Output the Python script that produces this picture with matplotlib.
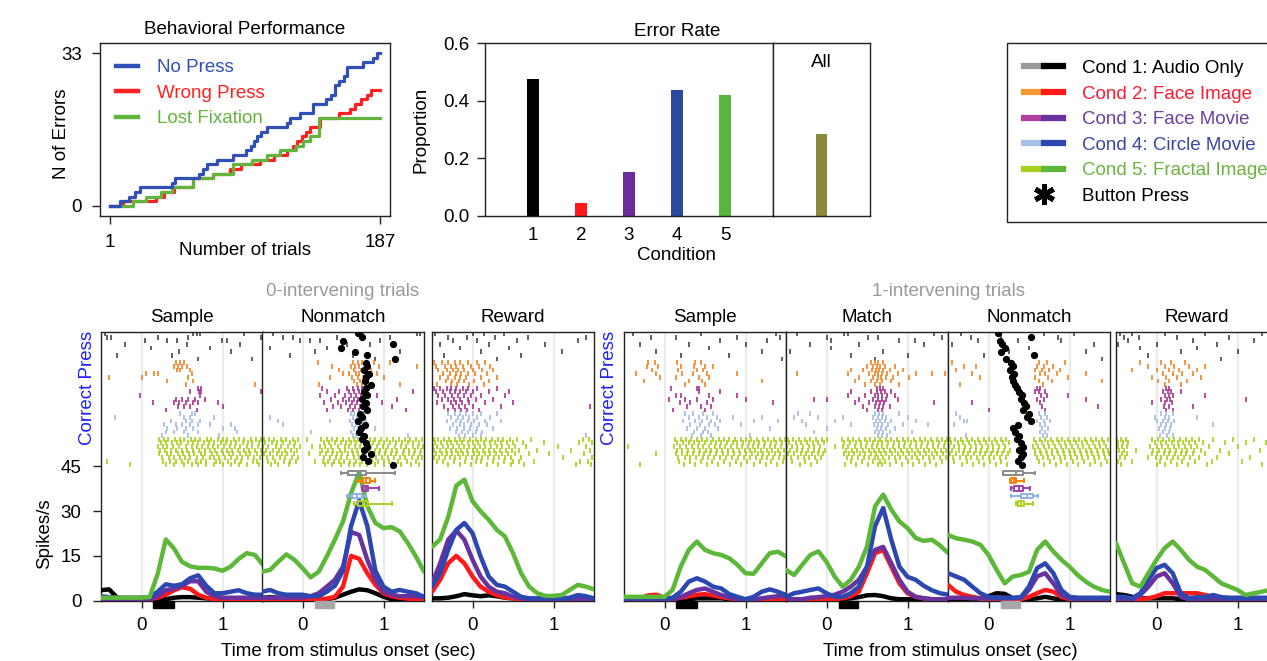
import numpy as np
import matplotlib
matplotlib.use("Agg")
import matplotlib.pyplot as plt
from matplotlib.lines import Line2D
from matplotlib.patches import Rectangle
from matplotlib.legend_handler import HandlerTuple

FS = 13.5
plt.rcParams['font.family'] = ['Liberation Sans', 'DejaVu Sans']
plt.rcParams['font.size'] = FS

# ---------------- behavioural performance (cumulative errors) ----------------
NOPRESS_TRIAL = [1, 8, 14, 18, 22, 44, 46, 62, 65, 68, 75, 86, 95, 98, 100, 102, 105, 109,
                 123, 125, 132, 141, 150, 153, 156, 159, 162, 164, 175, 182, 185, 187]
NOPRESS_COUNT = [0, 1, 2, 3, 4, 5, 6, 7, 8, 9, 10, 11, 12, 13, 14, 15, 16, 17,
                 18, 19, 20, 22, 23, 24, 26, 27, 28, 30, 31, 32, 33, 33]
WRONG_TRIAL = [1, 10, 33, 38, 45, 58, 72, 84, 91, 104, 114, 123, 127, 130, 133, 136, 139,
               146, 159, 166, 170, 174, 178, 181, 187]
WRONG_COUNT = [0, 1, 2, 3, 4, 6, 7, 8, 9, 10, 11, 12, 13, 14, 15, 16, 17,
               19, 20, 21, 22, 23, 24, 25, 25]
LOSTFIX_TRIAL = [1, 17, 26, 36, 44, 58, 72, 86, 99, 109, 118, 129, 134, 139, 145, 187]
LOSTFIX_COUNT = [0, 1, 2, 3, 4, 6, 7, 9, 10, 11, 12, 13, 14, 15, 19, 19]

# ---------------- error rate ----------------
CONDITIONS = [1, 2, 3, 4, 5]
ERROR_RATE = [0.475, 0.044, 0.154, 0.437, 0.42]
ERROR_ALL = 0.285

# ---------------- PSTH (spikes/s), time grid -0.5 .. 1.5 s ----------------
TIME = np.arange(-5, 16) / 10
# order in each panel: cond1 (black), cond2 (red), cond3 (purple), cond4 (blue), cond5 (green)
L_SAMPLE_RATE = [
    [3.5, 3.8, 1.0, 0.5, 0.3, 0.3, 0.3, 0.3, 0.5, 1.0, 1.2, 1.2, 1.0, 0.8, 0.6, 0.5, 0.5, 0.5, 0.5, 0.5, 0.5],
    [0.5, 0.5, 0.5, 0.5, 0.5, 0.5, 0.5, 1.0, 2.0, 3.5, 4.5, 4.0, 2.0, 1.0, 0.5, 0.5, 0.5, 0.5, 0.5, 0.5, 0.5],
    [0.5, 0.5, 0.5, 0.5, 0.5, 0.5, 0.5, 1.5, 3.5, 4.0, 5.0, 6.5, 6.5, 3.0, 1.5, 1.0, 1.0, 1.0, 1.0, 1.0, 1.0],
    [1.5, 1.2, 1.0, 1.0, 1.0, 1.0, 1.2, 3.0, 5.5, 5.0, 5.5, 7.5, 8.5, 5.0, 2.5, 2.5, 3.0, 3.5, 2.5, 2.0, 2.0],
    [1.0, 1.0, 1.0, 1.0, 1.0, 1.0, 1.2, 9.0, 20.5, 17.5, 13.0, 11.5, 11.0, 11.0, 10.8, 10.0, 11.4, 14.0, 15.9, 15.3, 12.0],
]
L_NONMATCH_RATE = [
    [1.0, 1.2, 1.0, 0.5, 0.5, 0.3, 0.3, 0.3, 0.5, 1.0, 2.0, 3.0, 3.8, 3.5, 2.5, 1.3, 0.5, 0.5, 0.5, 0.3, 0.3],
    [0.5, 0.5, 0.5, 0.5, 0.5, 0.5, 0.5, 0.5, 0.7, 1.3, 4.7, 15.0, 14.0, 9.2, 5.3, 2.5, 1.5, 1.0, 0.7, 0.5, 0.5],
    [1.0, 1.0, 1.0, 1.0, 1.0, 1.0, 1.5, 2.5, 4.7, 7.0, 11.4, 23.0, 22.0, 13.7, 7.0, 3.0, 2.0, 1.5, 1.5, 1.5, 1.2],
    [3.0, 3.6, 2.5, 2.0, 2.0, 2.0, 1.5, 1.5, 3.0, 5.0, 10.0, 25.0, 33.5, 25.0, 10.0, 4.7, 3.0, 3.6, 3.0, 2.5, 1.3],
    [9.7, 10.3, 13.0, 15.5, 13.7, 10.9, 7.8, 9.7, 14.8, 20.4, 26.5, 36.0, 43.0, 31.6, 26.0, 24.3, 24.6, 23.2, 19.3, 14.8, 9.7],
]
L_REWARD_RATE = [
    [0.8, 0.8, 1.0, 1.5, 2.2, 1.8, 1.5, 1.8, 1.5, 1.0, 0.8, 0.5, 0.5, 0.5, 0.5, 0.5, 0.5, 0.5, 0.5, 0.5, 0.5],
    [3.0, 7.0, 12.5, 15.0, 12.5, 8.1, 4.7, 3.0, 1.9, 1.1, 0.8, 0.5, 0.5, 0.5, 0.5, 0.5, 0.5, 0.5, 0.5, 0.5, 0.5],
    [5.8, 12.5, 20.4, 23.5, 20.4, 13.7, 8.1, 4.7, 3.0, 2.5, 1.3, 0.8, 0.5, 0.5, 0.5, 0.5, 0.5, 0.5, 0.5, 0.5, 0.5],
    [4.7, 9.2, 17.0, 23.7, 26.0, 22.6, 14.8, 8.1, 5.3, 4.7, 3.0, 1.3, 0.8, 0.8, 0.8, 0.8, 0.8, 1.0, 1.9, 1.5, 0.8],
    [18.0, 20.5, 28.0, 38.5, 40.5, 33.3, 29.9, 27.1, 23.7, 21.5, 15.9, 9.2, 4.7, 2.5, 1.6, 1.6, 1.9, 3.6, 5.3, 4.7, 3.8],
]
R_SAMPLE_RATE = [
    [0.3, 0.3, 0.3, 0.3, 0.3, 0.3, 0.3, 0.3, 0.5, 0.8, 0.8, 0.8, 0.8, 0.5, 0.3, 0.3, 0.3, 0.3, 0.3, 0.3, 0.3],
    [0.3, 0.3, 0.8, 1.8, 2.0, 1.0, 0.5, 1.0, 1.5, 2.0, 2.2, 1.8, 1.2, 0.8, 0.5, 0.5, 0.5, 0.5, 0.5, 0.5, 0.5],
    [0.3, 0.3, 0.3, 0.3, 0.3, 0.3, 0.5, 1.2, 2.5, 3.6, 4.1, 3.0, 1.9, 1.1, 0.5, 0.5, 0.5, 0.8, 1.2, 1.5, 1.5],
    [0.8, 0.8, 0.8, 0.8, 0.8, 0.8, 1.0, 3.0, 6.4, 7.5, 6.4, 4.7, 4.1, 2.2, 1.3, 0.5, 1.3, 3.0, 3.8, 3.0, 1.9],
    [1.3, 1.3, 1.3, 1.3, 1.3, 1.3, 3.6, 11.4, 17.0, 19.8, 17.0, 15.9, 15.3, 14.2, 12.0, 9.2, 9.0, 12.5, 15.9, 16.4, 14.8],
]
R_MATCH_RATE = [
    [0.5, 0.5, 0.5, 0.5, 0.5, 0.5, 0.5, 0.5, 0.8, 1.2, 1.8, 1.9, 1.5, 0.8, 0.5, 0.5, 0.5, 0.5, 0.5, 0.5, 0.5],
    [0.5, 0.5, 0.5, 0.5, 0.5, 0.5, 0.5, 0.8, 1.5, 3.0, 9.2, 15.9, 17.0, 11.4, 5.8, 2.5, 1.3, 0.8, 0.5, 0.5, 0.5],
    [0.5, 0.5, 0.5, 1.0, 1.2, 1.5, 2.0, 3.0, 4.7, 7.0, 11.4, 17.0, 18.0, 12.5, 7.0, 3.0, 1.3, 0.8, 0.5, 0.5, 0.5],
    [1.3, 2.5, 3.0, 3.6, 4.1, 2.5, 1.3, 1.3, 2.5, 4.7, 11.4, 25.0, 31.0, 20.4, 11.4, 8.0, 7.0, 5.0, 3.5, 2.5, 2.0],
    [10.3, 8.6, 12.0, 15.3, 16.5, 13.0, 8.1, 4.7, 7.0, 11.4, 18.1, 31.6, 35.5, 30.5, 26.5, 24.3, 21.0, 20.0, 20.4, 18.5, 16.0],
]
R_NONMATCH_RATE = [
    [0.5, 0.5, 0.5, 0.5, 0.8, 1.5, 2.5, 2.3, 0.8, 0.5, 0.5, 0.8, 1.3, 0.8, 0.3, 0.3, 0.3, 0.3, 0.3, 0.3, 0.3],
    [5.3, 3.0, 1.9, 1.3, 0.8, 0.5, 0.5, 0.5, 0.5, 0.5, 1.3, 2.5, 3.6, 3.0, 1.3, 0.5, 0.5, 0.5, 0.5, 0.5, 0.5],
    [1.0, 1.0, 1.0, 0.8, 0.8, 0.8, 0.8, 0.8, 0.8, 1.0, 3.6, 8.1, 9.2, 5.8, 1.9, 0.8, 0.5, 0.5, 0.5, 0.5, 0.5],
    [9.2, 8.1, 7.0, 4.7, 2.5, 1.3, 1.0, 1.0, 1.0, 1.2, 4.7, 10.9, 12.5, 9.2, 3.6, 1.3, 1.0, 1.0, 1.0, 1.0, 1.0],
    [22.0, 20.9, 20.4, 19.8, 18.7, 15.3, 10.3, 5.8, 8.1, 8.6, 9.7, 17.0, 19.8, 16.5, 13.7, 11.4, 8.6, 6.4, 4.7, 3.6, 3.0],
]
R_REWARD_RATE = [
    [2.2, 1.9, 1.3, 0.8, 0.8, 0.8, 0.8, 0.8, 0.5, 0.3, 0.3, 0.3, 0.3, 0.3, 0.3, 0.3, 0.3, 0.3, 0.3, 0.3, 0.3],
    [0.5, 0.5, 0.5, 0.5, 0.8, 1.5, 2.5, 2.5, 2.5, 2.5, 2.5, 1.9, 1.3, 0.8, 0.8, 0.8, 0.8, 0.8, 0.8, 0.8, 0.8],
    [0.5, 0.5, 0.5, 1.9, 4.7, 8.1, 9.2, 5.8, 1.3, 0.5, 0.5, 0.5, 0.5, 0.5, 0.5, 0.5, 0.5, 0.5, 0.5, 0.5, 0.5],
    [1.3, 1.3, 0.8, 2.5, 7.0, 10.9, 12.0, 9.2, 2.5, 0.8, 1.2, 1.2, 1.9, 1.2, 1.0, 1.0, 1.0, 1.0, 1.0, 1.0, 1.0],
    [19.3, 12.5, 5.8, 4.7, 9.2, 13.7, 17.6, 19.8, 17.0, 13.7, 11.4, 10.3, 8.1, 5.8, 4.7, 3.6, 1.9, 2.5, 3.0, 3.6, 3.6],
]

# ---------------- rasters: one line per trial, spike times in s ----------------
# rows per condition: 8, 7, 7, 7, 8
L_SAMPLE_SPIKES = [
"""-0.45 0.64 0.68 0.72 1.27
-0.42 -0.38 0.2 0.58 1.48
0.04 0.31 0.44 0.99 1.05
-0.2 0.56 1.22
0.12 0.85
0.46 1.1
-0.3 0.38
0.7 1.36""",
"""0.42 0.47 0.52
0.4 0.45 0.5 0.56
0.44 0.48 0.6
0.05 0.15 0.2 0.62
-0.4 0.0 0.58
0.32 0.64
0.55 1.4""",
"""0.7 0.73
0.6 0.71 0.74 1.47
-0.02 0.72
0.42 0.5 0.58 0.66 0.78
0.14 0.4 0.46 0.55 0.63 0.7 0.95
0.45 0.52 0.6 1.0
0.3 0.68""",
"""0.48 0.62 0.66
-0.33 0.52 0.6 0.9
0.36 0.55 0.62 0.72
0.28 0.42 0.5 0.6 0.7 0.84 1.1
0.32 0.44 0.55 0.64 1.0 1.15
0.3 0.4 0.52 0.7 1.18
0.25 0.58 0.96""",
"""0.21 0.28 0.33 0.41 0.47 0.52 0.61 0.66 0.72 0.81 0.86 0.94 1.0 1.06 1.14 1.2 1.27 1.35 1.41 1.48
0.24 0.3 0.38 0.44 0.49 0.57 0.64 0.7 0.77 0.83 0.9 0.98 1.04 1.1 1.17 1.25 1.31 1.37 1.45
0.2 0.26 0.32 0.39 0.46 0.55 0.62 0.68 0.75 0.82 0.88 0.95 1.02 1.09 1.15 1.22 1.3 1.36 1.44
0.23 0.29 0.36 0.42 0.5 0.56 0.63 0.71 0.78 0.85 0.91 0.99 1.05 1.12 1.19 1.26 1.33 1.4 1.47
0.22 0.31 0.37 0.45 0.51 0.59 0.65 0.73 0.79 0.87 0.93 1.01 1.08 1.13 1.21 1.29 1.34 1.43 1.49
0.25 0.34 0.4 0.48 0.54 0.6 0.69 0.76 0.84 0.89 0.96 1.03 1.11 1.18 1.24 1.32 1.39 1.46
-0.43 0.27 0.35 0.43 0.5 0.58 0.67 0.74 0.8 0.92 0.97 1.07 1.16 1.23 1.38 1.42
-0.14 0.3 0.4 0.53 0.62 0.7 0.8 0.9 1.01 1.1 1.2 1.3 1.45""",
]
L_NONMATCH_SPIKES = [
"""-0.36 0.75 1.41 1.45
-0.24 -0.12 0.42 1.08
-0.03 0.09 0.21 0.96
0.55 0.83
-0.4 0.3
0.15 1.2
-0.15 0.62
0.9""",
"""0.19 0.62 0.68 0.74 0.8 0.88 1.08
0.36 0.6 0.65 0.7 0.78 0.95 1.41
0.45 0.63 0.72 0.76 0.84
0.5 0.58 0.66 0.7 0.82 0.92
0.34 0.61 0.69 0.75 1.0
0.64 0.71 0.79
0.2 0.67 0.73 1.2""",
"""0.24 0.55 0.62 0.68 0.74
0.3 0.45 0.58 0.64 0.7 1.37
0.21 0.4 0.52 0.6 0.66 0.72 0.92
0.35 0.5 0.57 0.63 0.69 1.17
0.26 0.44 0.54 0.61 0.67 0.8 0.98
0.38 0.48 0.59 0.65 0.71 1.1
0.3 0.56 0.62 0.7 1.28""",
"""0.6 0.64 0.7 0.76
-0.4 0.62 0.67 0.72
-0.3 0.34 0.59 0.65 0.74 0.79
-0.24 0.61 0.66 0.71 0.78
0.63 0.68 0.73 0.9
0.1 0.6 0.69 0.75
0.62 0.66 0.72 1.3""",
"""-0.48 -0.41 -0.35 -0.27 -0.2 -0.12 -0.06 0.05 0.23 0.3 0.36 0.43 0.5 0.57 0.63 0.69 0.76 0.83 0.9 0.97 1.04 1.12 1.19 1.26 1.33 1.4 1.47
-0.46 -0.38 -0.31 -0.24 -0.16 -0.09 0.26 0.33 0.4 0.47 0.54 0.6 0.66 0.72 0.8 0.87 0.94 1.01 1.08 1.15 1.23 1.3 1.37 1.44
-0.49 -0.43 -0.33 -0.26 -0.18 -0.1 -0.03 0.12 0.21 0.28 0.35 0.44 0.52 0.58 0.65 0.71 0.78 0.85 0.92 0.99 1.06 1.14 1.21 1.28 1.36 1.43 1.49
-0.45 -0.37 -0.29 -0.22 -0.14 -0.07 0.24 0.31 0.38 0.46 0.53 0.61 0.67 0.74 0.81 0.89 0.96 1.03 1.1 1.17 1.25 1.32 1.39 1.46
-0.47 -0.4 -0.32 -0.25 -0.19 -0.11 0.08 0.22 0.29 0.37 0.42 0.49 0.56 0.62 0.68 0.75 0.82 0.88 0.95 1.02 1.09 1.16 1.24 1.31 1.38 1.45
-0.44 -0.36 -0.28 -0.21 -0.13 -0.05 0.27 0.34 0.41 0.48 0.55 0.64 0.7 0.77 0.84 0.91 0.98 1.05 1.13 1.2 1.27 1.35 1.42 1.48
-0.5 -0.42 -0.34 -0.23 -0.15 -0.08 0.15 0.25 0.32 0.39 0.45 0.51 0.59 0.66 0.73 0.79 0.86 0.93 1.0 1.07 1.18 1.29 1.4
-0.39 -0.3 -0.17 0.28 0.36 0.47 0.57 0.63 0.71 0.8 0.9 1.0 1.11 1.22 1.34 1.44""",
]
L_REWARD_SPIKES = [
"""-0.46 0.0 0.14 0.39
-0.3 -0.07 0.28 0.68 1.4
-0.24 0.05 0.55 1.3
-0.4 0.2 0.9
-0.15 0.45
0.1 1.1
-0.35 0.6
0.3""",
"""-0.48 -0.38 -0.3 -0.22 -0.15 -0.05 0.05 0.15
-0.45 -0.34 -0.26 -0.2 -0.12 -0.02 0.08 0.22
-0.42 -0.32 -0.24 -0.18 -0.1 0.0 0.12 0.25
-0.36 -0.28 -0.2 -0.14 -0.06 0.03 0.18
-0.4 -0.3 -0.22 -0.16 -0.08 0.1 0.3
-0.33 -0.25 -0.17 -0.1 0.02 0.2
-0.44 -0.27 -0.19 -0.04 0.14""",
"""-0.48 -0.4 -0.32 -0.26 -0.2 -0.12 -0.05 0.05 0.3
-0.45 -0.36 -0.28 -0.22 -0.16 -0.08 0.0 0.2 0.45
-0.42 -0.34 -0.25 -0.18 -0.1 -0.02 0.1 0.4
-0.38 -0.3 -0.23 -0.15 -0.06 0.04 0.25
-0.44 -0.27 -0.2 -0.13 -0.04 0.15 0.5
-0.35 -0.24 -0.17 -0.09 0.0 0.35 1.45
-0.3 -0.21 -0.14 -0.07 0.08""",
"""-0.3 -0.22 -0.15 -0.08 0.0 0.1 0.3
-0.26 -0.18 -0.12 -0.04 0.05 0.22
-0.32 -0.2 -0.14 -0.06 0.02 0.15 0.35
-0.24 -0.16 -0.1 -0.02 0.08 0.18
-0.28 -0.19 -0.11 -0.03 0.06 0.25
-0.2 -0.13 -0.05 0.04 0.12
-0.17 -0.09 0.0 0.1 1.4""",
"""-0.48 -0.42 -0.35 -0.29 -0.22 -0.16 -0.1 -0.03 0.04 0.1 0.17 0.24 0.31 0.38 0.46 0.55 0.72 1.36 1.44
-0.46 -0.39 -0.32 -0.26 -0.19 -0.13 -0.06 0.01 0.07 0.14 0.21 0.28 0.35 0.43 0.5 0.62 0.88 1.31 1.48
-0.49 -0.44 -0.37 -0.3 -0.24 -0.17 -0.11 -0.04 0.03 0.09 0.16 0.23 0.3 0.37 0.45 0.53 0.66 1.05 1.4
-0.47 -0.4 -0.33 -0.27 -0.2 -0.14 -0.07 0.0 0.06 0.13 0.2 0.27 0.34 0.41 0.49 0.58 0.8 1.22 1.45
-0.45 -0.38 -0.31 -0.25 -0.18 -0.12 -0.05 0.02 0.08 0.15 0.22 0.29 0.36 0.44 0.52 0.7 0.95 1.38
-0.48 -0.41 -0.34 -0.28 -0.21 -0.15 -0.08 -0.01 0.05 0.12 0.19 0.26 0.33 0.4 0.48 0.6 1.12 1.47
-0.44 -0.36 -0.23 -0.09 0.04 0.11 0.25 0.39 0.5 0.57 0.76 1.33 1.42
-0.5 -0.3 -0.16 -0.02 0.18 0.32 0.47 0.64 1.28 1.46""",
]
R_SAMPLE_SPIKES = [
"""-0.39 0.45 1.38
-0.17 0.14 0.89 1.43
0.68 1.26
-0.3 0.3 1.0
0.55
-0.1 1.2
0.2 0.8
1.45""",
"""-0.2 -0.12 0.15 0.38 0.45
-0.22 -0.08 0.2 0.36 0.5 0.6
-0.15 0.17 0.4 0.48
-0.35 -0.1 0.22 0.35 0.52 0.9
-0.06 0.14 0.42 0.55
-0.25 0.3 0.46 1.2
0.25 0.5""",
"""0.08 0.4 0.42
0.42 0.68
0.14 0.2 0.55 0.89
0.06 0.25 0.4 0.6 1.01
0.19 0.31 0.52 1.34
0.28 0.45 0.58
0.1 0.5""",
"""0.25 0.35 0.48 0.6
0.3 0.42 0.52 0.65 0.85 1.2
0.23 0.38 0.46 0.58 0.68 1.1 1.4
0.32 0.44 0.55 0.62 0.95
0.28 0.4 0.5 0.66 1.3
0.36 0.47 0.54
0.34 0.45 0.57 1.05""",
"""0.13 0.2 0.26 0.33 0.4 0.46 0.53 0.6 0.67 0.73 0.8 0.87 0.94 1.0 1.07 1.14 1.21 1.28 1.35 1.42 1.49
0.16 0.23 0.3 0.36 0.43 0.5 0.57 0.63 0.7 0.77 0.84 0.9 0.97 1.04 1.11 1.17 1.24 1.31 1.38 1.45
-0.45 0.12 0.19 0.27 0.34 0.41 0.48 0.55 0.62 0.69 0.75 0.82 0.89 0.96 1.03 1.09 1.16 1.23 1.3 1.37 1.44
0.15 0.22 0.29 0.37 0.44 0.51 0.58 0.65 0.71 0.78 0.85 0.92 0.99 1.06 1.12 1.19 1.26 1.33 1.4 1.47
-0.1 0.14 0.21 0.28 0.35 0.42 0.49 0.56 0.64 0.72 0.79 0.86 0.93 1.01 1.08 1.15 1.22 1.29 1.36 1.43
0.17 0.25 0.32 0.39 0.47 0.54 0.61 0.68 0.76 0.83 0.91 0.98 1.05 1.13 1.2 1.27 1.34 1.41 1.48
0.18 0.31 0.45 0.59 0.74 0.88 1.02 1.18 1.32 1.46
-0.3 0.24 0.38 0.52 0.66 0.81 0.95 1.1 1.25 1.39""",
]
R_MATCH_SPIKES = [
"""-0.36 0.22 0.26 1.33
0.01 0.51 0.63 1.42
0.05 0.9 1.09
-0.2 0.4 1.2
0.06
-0.45 0.7
0.3 1.0
0.6""",
"""0.55 0.6 0.64 0.7
0.5 0.58 0.62 0.66 0.72 0.85
0.3 0.45 0.56 0.61 0.65 0.7 0.78 0.95
-0.36 0.26 0.52 0.6 0.64 0.68 0.75 0.88 1.1 1.3 1.46
0.4 0.57 0.63 0.67 0.74 0.82 1.02
0.35 0.55 0.62 0.69 0.8
0.48 0.6 0.66 0.9""",
"""0.62 0.66 0.7
0.3 0.55 0.62 0.67 0.72 0.8
0.26 0.47 0.6 0.64 0.69 0.75 0.85
-0.15 0.01 0.4 0.58 0.63 0.68 0.73 0.88
0.35 0.52 0.61 0.66 0.71 1.33
0.45 0.6 0.65 0.7 0.78
0.5 0.63 0.68""",
"""-0.35 -0.2 0.6 0.65 0.7 0.9
-0.4 -0.1 0.2 0.58 0.63 0.68 0.74 1.0
-0.3 0.1 0.61 0.66 0.72 0.8 1.1
-0.25 0.3 0.59 0.64 0.69 0.76 0.95 1.25
0.0 0.62 0.67 0.73 0.85
-0.15 0.6 0.65 0.7 0.78 1.05
0.63 0.68 0.75""",
"""-0.48 -0.41 -0.34 -0.27 -0.2 -0.13 -0.06 0.0 0.19 0.26 0.33 0.4 0.47 0.54 0.6 0.66 0.73 0.8 0.87 0.94 1.01 1.08 1.15 1.22 1.29 1.36 1.43 1.49
-0.46 -0.38 -0.31 -0.24 -0.17 -0.1 -0.03 0.22 0.29 0.36 0.43 0.5 0.57 0.63 0.69 0.76 0.83 0.9 0.97 1.04 1.11 1.18 1.25 1.32 1.39 1.46
-0.49 -0.43 -0.36 -0.29 -0.22 -0.15 -0.08 0.1 0.2 0.27 0.35 0.42 0.49 0.56 0.62 0.68 0.75 0.82 0.89 0.96 1.03 1.1 1.17 1.24 1.31 1.38 1.45
-0.45 -0.37 -0.3 -0.23 -0.16 -0.09 -0.02 0.24 0.31 0.38 0.45 0.52 0.59 0.65 0.71 0.78 0.85 0.92 0.99 1.06 1.13 1.2 1.27 1.34 1.41 1.48
-0.47 -0.4 -0.32 -0.25 -0.18 -0.11 -0.04 0.21 0.28 0.34 0.41 0.48 0.55 0.61 0.67 0.74 0.81 0.88 0.95 1.02 1.09 1.16 1.23 1.3 1.37 1.44
-0.44 -0.35 -0.28 -0.21 -0.14 -0.07 0.25 0.32 0.39 0.46 0.53 0.6 0.64 0.7 0.77 0.84 0.91 0.98 1.05 1.12 1.19 1.26 1.33 1.4 1.47
-0.42 -0.26 -0.12 0.3 0.44 0.58 0.66 0.72 0.86 1.0 1.14 1.28 1.42
-0.5 -0.33 -0.19 0.23 0.37 0.51 0.63 0.69 0.79 0.93 1.07 1.21 1.35""",
]
R_NONMATCH_SPIKES = [
"""-0.34 0.69 1.06
-0.21 0.16 0.86
-0.13 0.36 0.9
-0.45 1.3
0.5
0.25 1.2
-0.05
1.4""",
"""-0.45 0.62 0.72 0.95
-0.3 -0.15 0.6 0.68 0.8
-0.4 0.57 0.66 0.75 0.88
-0.2 0.64 0.7 0.85 1.2
-0.1 0.58 0.73 0.98
0.62 0.78 1.4
-0.35 0.67""",
"""0.6 0.64
0.58 0.62 0.7
0.65 0.72 0.98
0.6 0.68 1.2
-0.2 0.63
0.66 1.35
0.0 0.7""",
"""-0.4 0.62 0.7
-0.35 0.65 0.72
-0.3 -0.26 0.6 0.68 0.76
-0.42 0.64 0.7
0.66 0.74
0.63 0.7
-0.28 0.67 0.72""",
"""-0.48 -0.41 -0.34 -0.27 -0.2 -0.13 -0.06 0.01 0.08 0.15 0.22 0.56 0.63 0.7 0.77 0.84 0.91 0.98 1.05 1.12 1.19 1.26 1.33 1.4 1.47
-0.46 -0.38 -0.31 -0.24 -0.17 -0.1 -0.03 0.04 0.11 0.18 0.25 0.59 0.66 0.73 0.8 0.87 0.94 1.01 1.08 1.15 1.22 1.29 1.36 1.43
-0.49 -0.43 -0.36 -0.29 -0.22 -0.15 -0.08 -0.01 0.06 0.13 0.2 0.55 0.61 0.68 0.75 0.82 0.89 0.96 1.03 1.1 1.17 1.24 1.31 1.38 1.45
-0.45 -0.37 -0.3 -0.23 -0.16 -0.09 -0.02 0.05 0.12 0.19 0.27 0.58 0.64 0.71 0.78 0.85 0.92 0.99 1.06 1.13 1.2 1.27 1.34 1.41 1.48
-0.47 -0.4 -0.32 -0.25 -0.18 -0.11 -0.04 0.03 0.1 0.17 0.24 0.57 0.65 0.72 0.79 0.86 0.93 1.0 1.07 1.14 1.21 1.28 1.35 1.42 1.49
-0.44 -0.35 -0.28 -0.21 -0.14 -0.07 0.0 0.07 0.14 0.21 0.6 0.67 0.74 0.81 0.88 0.95 1.02 1.09 1.16 1.23 1.3 1.37 1.44
-0.42 -0.26 -0.12 0.02 0.16 0.62 0.76 0.9 1.04 1.18 1.32 1.46
-0.33 -0.19 -0.05 0.09 0.23 0.69 0.83 0.97 1.11 1.25 1.39""",
]
R_REWARD_SPIKES = [
"""-0.45 -0.3 0.1 0.6 1.3
-0.4 -0.22 0.25 0.9
-0.35 0.45 1.2
-0.48 0.0 0.75
-0.2 0.5
0.3 1.0
-0.1
0.8""",
"""-0.2 0.05 0.18 0.35
-0.1 0.1 0.22 0.4 0.6
-0.3 0.0 0.15 0.28 0.5
0.08 0.2 0.32 0.45
-0.05 0.12 0.25 0.55
0.02 0.16 0.38
0.1 0.3""",
"""0.12 0.16
0.08 0.14 0.18 0.3
0.1 0.15 0.2 0.6
0.05 0.13 0.17 1.1
-0.05 0.11 0.19
0.09 0.15 0.45
0.12 0.2""",
"""0.05 0.12 0.2
-0.02 0.1 0.16 0.5
0.0 0.08 0.14 0.22
0.06 0.12 0.18 0.7
0.03 0.1 0.17
0.08 0.15
0.04 0.13 0.2""",
"""-0.49 -0.44 -0.38 -0.05 0.02 0.08 0.15 0.22 0.29 0.36 0.44 0.52 0.7 0.95 1.2
-0.47 -0.41 -0.35 -0.02 0.05 0.12 0.19 0.26 0.33 0.4 0.48 0.58 0.85 1.1 1.35
-0.48 -0.42 -0.36 -0.08 0.0 0.07 0.14 0.21 0.28 0.35 0.42 0.5 0.65 1.0
-0.46 -0.4 -0.25 -0.04 0.03 0.1 0.17 0.24 0.31 0.38 0.46 0.55 0.78 1.28
-0.5 -0.43 -0.37 -0.06 0.01 0.09 0.16 0.23 0.3 0.37 0.45 0.6 0.9
-0.45 -0.39 -0.1 -0.01 0.06 0.13 0.2 0.27 0.34 0.41 0.53 0.75 1.15
-0.48 -0.3 0.04 0.18 0.32 0.47 0.68 1.05
-0.44 0.0 0.11 0.25 0.39 0.62 1.3""",
]

# button press time on each trial (nonmatch panels), rows in raster order
L_PRESS = [0.68, 0.74, 0.5, 1.12, 0.48, 0.65, 0.8, 1.14,
           0.78, 0.8, 0.76, 0.82, 0.79, 0.77, 0.85,
           0.78, 0.76, 0.8, 0.74, 0.79, 0.75, 0.8,
           0.71, 0.74, 0.68, 0.77, 0.72, 0.7, 0.76,
           0.73, 0.78, 0.8, 0.76, 0.84, 0.75, 0.81, 1.12]
R_PRESS = [0.12, 0.52, 0.14, 0.17, 0.2, 0.15, 0.56, 0.22,
           0.28, 0.3, 0.27, 0.32, 0.29, 0.3, 0.33,
           0.35, 0.38, 0.41, 0.4, 0.44, 0.46, 0.42,
           0.5, 0.48, 0.52, 0.36, 0.3, 0.33, 0.38,
           0.35, 0.4, 0.42, 0.38, 0.43, 0.4, 0.37, 0.41]
# reaction-time box stats per condition: whisker low, q1, median, q3, whisker high
L_PRESS_BOX = [(0.48, 0.56, 0.69, 0.79, 1.14), (0.69, 0.75, 0.79, 0.83, 0.90),
               (0.73, 0.75, 0.78, 0.81, 0.94), (0.55, 0.61, 0.67, 0.73, 0.79),
               (0.63, 0.69, 0.75, 0.81, 1.10)]
R_PRESS_BOX = [(0.18, 0.18, 0.34, 0.43, 0.57), (0.27, 0.28, 0.31, 0.34, 0.44),
               (0.28, 0.32, 0.38, 0.43, 0.51), (0.28, 0.40, 0.47, 0.55, 0.61),
               (0.34, 0.36, 0.40, 0.44, 0.55)]
# stimulus on / off (s)
STIM_SAMPLE = (0.14, 0.40)
STIM_TEST = (0.15, 0.39)

# ---------------- styles ----------------
RATE_COLORS = ['#000000', '#ff1a1a', '#6a329f', '#2c48b0', '#5db83a']
RASTER_COLORS = ['#444444', '#f08220', '#a8308f', '#a3b9e3', '#a6cf14']
BOX_COLORS = ['#8a8a8a', '#ff8000', '#a040b0', '#8fb0e8', '#b0d020']
LEGEND_TEXT_COLORS = ['#000000', '#ff1a2e', '#6b3fa0', '#3a46a0', '#6db33f']
BAR_COLORS = ['#000000', '#ff1a1a', '#6a2d9c', '#2a4aa0', '#5ab540']
SPINE = '#222222'

W, H = 1267, 661
fig = plt.figure(figsize=(W / 100, H / 100), dpi=100)


def px_axes(left, top, right, bottom):
    return fig.add_axes([left / W, 1 - bottom / H, (right - left) / W, (bottom - top) / H])


def px_text(x, y, s, **kw):
    fig.text(x / W, 1 - y / H, s, ha='center', va='center', **kw)


def rows_of(text):
    return [np.array([float(v) for v in line.split()]) for line in text.strip().splitlines()]


def style_spines(ax):
    for sp in ax.spines.values():
        sp.set_color(SPINE)
        sp.set_linewidth(1.0)


# ---- behavioural performance ----
ax = px_axes(100, 43, 390, 216)
style_spines(ax)
ax.step(WRONG_TRIAL, WRONG_COUNT, where='post', color='#ff2020', lw=2.3, label='Wrong Press')
ax.step(LOSTFIX_TRIAL, LOSTFIX_COUNT, where='post', color='#63b43c', lw=2.3, label='Lost Fixation')
ax.step(NOPRESS_TRIAL, NOPRESS_COUNT, where='post', color='#3050b8', lw=2.3, label='No Press')
ax.set_xlim(-5.9, 193.9)
ax.set_ylim(-2.16, 35.16)
ax.set_xticks([1, 187])
ax.set_yticks([0, 33])
ax.tick_params(length=6, width=1, color=SPINE, pad=7, labelsize=FS)
ax.set_xlabel('Number of trials', fontsize=FS)
ax.xaxis.set_label_coords(0.5, -0.15)
h, l = ax.get_legend_handles_labels()
order = [2, 0, 1]
leg = ax.legend([h[i] for i in order], [l[i] for i in order], loc='upper left',
                frameon=False, handlelength=1.2, handletextpad=1.0, labelspacing=0.45,
                borderaxespad=0.45, fontsize=FS)
for txt, c in zip(leg.get_texts(), ['#3050b8', '#ff2020', '#63b43c']):
    txt.set_color(c)
for line in leg.get_lines():
    line.set_linewidth(3.2)
px_text(245, 30, 'Behavioral Performance', fontsize=FS)
px_text(62, 134, 'N of Errors', fontsize=FS, rotation=90)

# ---- error rate ----
ax = px_axes(485, 43, 773, 216)
style_spines(ax)
ax.bar(CONDITIONS, ERROR_RATE, width=0.23, color=BAR_COLORS)
ax.set_xlim(0, 6)
ax.set_ylim(0, 0.6)
ax.set_xticks(CONDITIONS)
ax.set_yticks([0, 0.2, 0.4, 0.6])
ax.set_yticklabels(['0.0', '0.2', '0.4', '0.6'])
ax.tick_params(axis='y', length=6, width=1, color=SPINE, pad=5, labelsize=FS)
ax.tick_params(axis='x', length=0, pad=8, labelsize=FS)

ax = px_axes(773, 43, 870, 216)
style_spines(ax)
ax.bar([0.5], [ERROR_ALL], width=0.11, color='#8a8a3a')
ax.set_xlim(0, 1)
ax.set_ylim(0, 0.6)
ax.set_xticks([])
ax.set_yticks([])
ax.text(0.5, 0.885, 'All', transform=ax.transAxes, ha='center', va='center', fontsize=FS)
px_text(677, 31, 'Error Rate', fontsize=FS)
px_text(677, 256, 'Condition', fontsize=FS)
px_text(421, 130, 'Proportion', fontsize=FS, rotation=90)

# ---- condition legend ----
cond_labels = ['Cond 1: Audio Only', 'Cond 2: Face Image', 'Cond 3: Face Movie',
               'Cond 4: Circle Movie', 'Cond 5: Fractal Image']
light = ['#9a9a9a', '#f59a30', '#b040a0', '#a9c0ea', '#a8d020']
handles = [(Line2D([], [], color=a, lw=4.5), Line2D([], [], color=b, lw=4.5))
           for a, b in zip(light, RATE_COLORS)]
handles.append(Line2D([], [], color='k', marker=(6, 2, 0), ms=15, mew=3.6, linestyle='none'))
leg = fig.legend(handles, cond_labels + ['Button Press'], loc='upper left',
                 bbox_to_anchor=(1007 / W, 1 - 43 / H), borderaxespad=0, fontsize=FS,
                 frameon=True, fancybox=False, edgecolor=SPINE, framealpha=1,
                 handlelength=2.1, handletextpad=1.0, labelspacing=0.45, borderpad=0.9,
                 handler_map={tuple: HandlerTuple(ndivide=None, pad=0)})
leg.get_frame().set_linewidth(1.0)
for txt, c in zip(leg.get_texts(), LEGEND_TEXT_COLORS + ['#000000']):
    txt.set_color(c)

# ---- PSTH / raster panels ----
TRIAL_TOP, TRIAL_STEP = 89.4, 1.22
BOX_Y = [42.7, 40.2, 37.6, 35.0, 32.5]
PANEL_TOP, PANEL_BOTTOM, PANEL_W = 331.7, 600.7, 162

panels = [
    ('Sample', 101, L_SAMPLE_SPIKES, L_SAMPLE_RATE, STIM_SAMPLE, '#000000', None, None),
    ('Nonmatch', 262, L_NONMATCH_SPIKES, L_NONMATCH_RATE, STIM_TEST, '#a8a8a8', L_PRESS, L_PRESS_BOX),
    ('Reward', 432, L_REWARD_SPIKES, L_REWARD_RATE, None, None, None, None),
    ('Sample', 624, R_SAMPLE_SPIKES, R_SAMPLE_RATE, STIM_SAMPLE, '#000000', None, None),
    ('Match', 786, R_MATCH_SPIKES, R_MATCH_RATE, STIM_TEST, '#000000', None, None),
    ('Nonmatch', 948, R_NONMATCH_SPIKES, R_NONMATCH_RATE, STIM_TEST, '#a8a8a8', R_PRESS, R_PRESS_BOX),
    ('Reward', 1116, R_REWARD_SPIKES, R_REWARD_RATE, None, None, None, None),
]

for i, (title, left, spikes, rates, stim, stim_color, press, boxes) in enumerate(panels):
    ax = px_axes(left, PANEL_TOP, left + PANEL_W, PANEL_BOTTOM)
    style_spines(ax)
    ax.set_xlim(-0.5, 1.5)
    ax.set_ylim(0, 90)
    for t in (0, 1):
        ax.axvline(t, color='#ebebeb', lw=1.6, zorder=0)
    k = 0
    for cond_text, color in zip(spikes, RASTER_COLORS):
        rows = rows_of(cond_text)
        ys = TRIAL_TOP - TRIAL_STEP * np.arange(k, k + len(rows))
        ax.eventplot(rows, lineoffsets=ys, linelengths=1.6, linewidths=1.2, colors=color)
        k += len(rows)
    if press is not None:
        ys = TRIAL_TOP - TRIAL_STEP * np.arange(len(press))
        ax.plot(press, ys, 'o', color='k', ms=4.2, zorder=5)
    for vals, color in zip(rates, RATE_COLORS):
        ax.plot(TIME, vals, color=color, lw=3.2, solid_capstyle='round', zorder=3)
    if boxes is not None:
        for (lo, q1, med, q3, hi), y, c in zip(boxes, BOX_Y, BOX_COLORS):
            st = [dict(whislo=lo, q1=q1, med=med, q3=q3, whishi=hi, fliers=[])]
            props = dict(color=c, lw=1.4)
            kw = dict(positions=[y], widths=1.6, manage_ticks=False, showfliers=False,
                      boxprops=props, whiskerprops=props, capprops=props,
                      medianprops=props, zorder=4)
            try:
                ax.bxp(st, orientation='horizontal', **kw)
            except TypeError:
                ax.bxp(st, vert=False, **kw)
    if stim is not None:
        ax.add_patch(Rectangle((stim[0], -2.4), stim[1] - stim[0], 2.4,
                               color=stim_color, clip_on=False, zorder=5))
    ax.set_xticks([0, 1])
    ax.tick_params(axis='x', length=5, width=1, color=SPINE, pad=6.5, labelsize=FS)
    if i == 0:
        ax.set_yticks([0, 15, 30, 45])
        ax.tick_params(axis='y', length=6, width=1, color=SPINE, pad=8, labelsize=FS)
    else:
        ax.set_yticks([])
    px_text(left + PANEL_W / 2, 317, title, fontsize=FS)

px_text(343, 291, '0-intervening trials', fontsize=FS, color='#9a9a9a')
px_text(948, 291, '1-intervening trials', fontsize=FS, color='#9a9a9a')
px_text(348, 652, 'Time from stimulus onset (sec)', fontsize=FS)
px_text(950, 652, 'Time from stimulus onset (sec)', fontsize=FS)
px_text(45, 534, 'Spikes/s', fontsize=FS, rotation=90)
px_text(87, 388, 'Correct Press', fontsize=FS, rotation=90, color='#1f1fff')
px_text(610, 388, 'Correct Press', fontsize=FS, rotation=90, color='#1f1fff')

fig.savefig('out.png', dpi=100)
